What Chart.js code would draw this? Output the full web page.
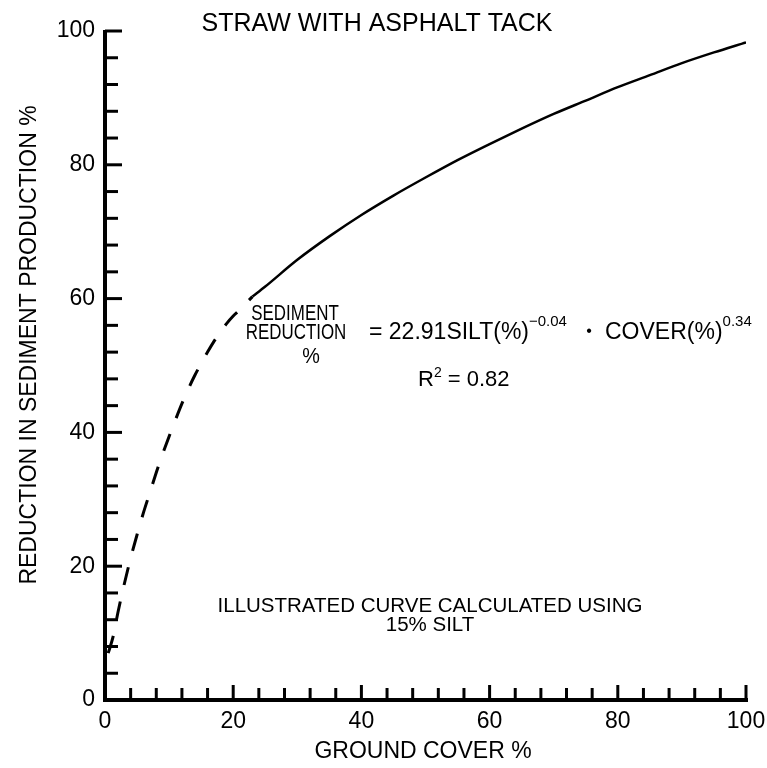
<!DOCTYPE html>
<html>
<head>
<meta charset="utf-8">
<script src="https://cdn.jsdelivr.net/npm/chart.js@4.4.1/dist/chart.umd.min.js"></script>
<style>
  html, body { margin: 0; padding: 0; background: #ffffff; }
  #wrap { width: 767px; height: 768px; position: relative; }
</style>
</head>
<body>
<div id="wrap"><canvas id="c"></canvas></div>
<script>
// ---- data ----
const titleText = "STRAW WITH ASPHALT TACK";
const xAxisTitle = "GROUND COVER %";
const yAxisTitle = "REDUCTION IN SEDIMENT PRODUCTION %";

// dashed (extrapolated) part of the curve
const dashedCover = [0.5, 1.3, 2.0, 3.0, 4.0, 5.0, 6.0, 7.0, 8.0, 9.0, 10.0, 11.0, 12.0, 13.0, 14.0, 15.0, 16.0, 17.0, 18.0, 19.0, 20.0, 21.0, 22.0, 23.0];
const dashedReduction = [7.0, 9.6, 13.0, 17.3, 21.2, 24.7, 28.0, 31.0, 34.0, 36.8, 39.4, 41.9, 44.3, 46.5, 48.5, 50.3, 52.0, 53.6, 55.0, 56.3, 57.4, 58.3, 59.3, 60.3];

// solid part of the curve
const solidCover = [23, 25, 30, 35, 40, 45, 50, 55, 60, 65, 70, 75, 80, 85, 90, 95, 100];
const solidReduction = [60.3, 61.8, 65.8, 69.3, 72.5, 75.4, 78.1, 80.7, 83.1, 85.4, 87.6, 89.6, 91.6, 93.4, 95.2, 96.8, 98.3];

// axis tick values
const xTickValues = [0, 4, 8, 12, 16, 20, 24, 28, 32, 36, 40, 44, 48, 52, 56, 60, 64, 68, 72, 76, 80, 84, 88, 92, 96, 100];
const yTickValues = [0, 4, 8, 12, 16, 20, 24, 28, 32, 36, 40, 44, 48, 52, 56, 60, 64, 68, 72, 76, 80, 84, 88, 92, 96, 100];
const xLabelValues = [0, 20, 40, 60, 80, 100];
const yLabelValues = [0, 20, 40, 60, 80, 100];

const FONT = "'Liberation Sans', Arial, Helvetica, sans-serif";

function toPoints(xs, ys) { return xs.map((x, i) => ({ x: x, y: ys[i] })); }

const overlay = {
  id: 'overlay',
  afterDraw(chart) {
    const ctx = chart.ctx;
    const xs = chart.scales.x, ys = chart.scales.y;
    const x0 = xs.getPixelForValue(0), x100 = xs.getPixelForValue(100);
    const y0 = ys.getPixelForValue(0), y100 = ys.getPixelForValue(100);
    ctx.save();
    ctx.strokeStyle = '#000';
    ctx.fillStyle = '#000';
    ctx.lineCap = 'butt';
    // axis lines
    ctx.lineWidth = 4;
    ctx.beginPath();
    ctx.moveTo(x0, y100 - 1);
    ctx.lineTo(x0, y0 + 2);
    ctx.moveTo(x0 - 2, y0);
    ctx.lineTo(x100 + 2, y0);
    ctx.stroke();
    // y ticks (inward)
    ctx.lineWidth = 3;
    yTickValues.forEach(v => {
      const py = ys.getPixelForValue(v);
      const len = (v % 20 === 0) ? 17 : 13;
      ctx.beginPath();
      ctx.moveTo(x0, py);
      ctx.lineTo(x0 + len, py);
      ctx.stroke();
    });
    // x ticks (inward)
    xTickValues.forEach(v => {
      const px = xs.getPixelForValue(v);
      const len = (v % 20 === 0) ? 15 : 12;
      ctx.beginPath();
      ctx.moveTo(px, y0);
      ctx.lineTo(px, y0 - len);
      ctx.stroke();
    });

    // title
    ctx.textAlign = 'center';
    ctx.textBaseline = 'alphabetic';
    ctx.font = '25px ' + FONT;
    ctx.fillText(titleText, 377, 31);

    // x axis title
    ctx.font = '23px ' + FONT;
    ctx.fillText(xAxisTitle, 423, 758);

    // y axis title
    ctx.save();
    ctx.translate(30, 345);
    ctx.rotate(-Math.PI / 2);
    ctx.textBaseline = 'middle';
    ctx.fillText(yAxisTitle, 0, 0);
    ctx.restore();

    // equation block (left part, narrow lettering)
    function narrow(text, cxp, by, size, sx) {
      ctx.save();
      ctx.translate(cxp, by);
      ctx.scale(sx, 1);
      ctx.font = size + 'px ' + FONT;
      ctx.textAlign = 'center';
      ctx.fillText(text, 0, 0);
      ctx.restore();
    }
    narrow('SEDIMENT', 295, 320, 22, 0.77);
    narrow('REDUCTION', 296, 339, 22, 0.77);
    narrow('%', 311, 363, 22, 0.9);

    ctx.textAlign = 'left';
    let cx = 369;
    const base = 339;
    function seg(text, size, dy) {
      ctx.font = size + 'px ' + FONT;
      ctx.fillText(text, cx, base + dy);
      cx += ctx.measureText(text).width;
    }
    seg('= 22.91SILT(%)', 23, 0);
    seg('\u22120.04', 15, -13);
    ctx.font = '16px ' + FONT;
    ctx.textAlign = 'center';
    ctx.fillText('\u2022', 589, base - 3);
    ctx.textAlign = 'left';
    cx = 605;
    seg('COVER(%)', 23, 0);
    seg('0.34', 15, -13);

    cx = 418;
    const base2 = 386;
    function seg2(text, size, dy) {
      ctx.font = size + 'px ' + FONT;
      ctx.fillText(text, cx, base2 + dy);
      cx += ctx.measureText(text).width;
    }
    seg2('R', 22, 0);
    seg2('2', 14, -9);
    seg2(' = 0.82', 22, 0);

    // note
    ctx.textAlign = 'center';
    ctx.font = '20.5px ' + FONT;
    ctx.fillText('ILLUSTRATED CURVE CALCULATED USING', 430, 612);
    ctx.fillText('15% SILT', 430, 631);
    ctx.restore();
  }
};

new Chart(document.getElementById('c'), {
  type: 'scatter',
  data: {
    datasets: [
      {
        label: 'dashed',
        data: toPoints(dashedCover, dashedReduction),
        showLine: true,
        borderColor: '#000',
        borderWidth: 3,
        borderDash: [18, 17],
        pointRadius: 0,
        fill: false,
        cubicInterpolationMode: 'monotone'
      },
      {
        label: 'solid',
        data: toPoints(solidCover, solidReduction),
        showLine: true,
        borderColor: '#000',
        borderWidth: 2.5,
        pointRadius: 0,
        fill: false,
        cubicInterpolationMode: 'monotone'
      }
    ]
  },
  options: {
    responsive: true,
    maintainAspectRatio: false,
    animation: false,
    events: [],
    layout: { padding: { top: 31, right: 21, left: 0, bottom: 0 } },
    plugins: { legend: { display: false }, tooltip: { enabled: false }, title: { display: false } },
    scales: {
      x: {
        type: 'linear', min: 0, max: 100,
        grid: { display: false, drawTicks: false },
        border: { display: false },
        afterFit(scale) { scale.height = 68; scale.paddingLeft = 0; scale.paddingRight = 0; },
        afterBuildTicks(scale) { scale.ticks = xLabelValues.map(v => ({ value: v })); },
        ticks: { color: '#000', padding: 8, maxRotation: 0, autoSkip: false, font: { family: FONT, size: 23 } }
      },
      y: {
        type: 'linear', min: 0, max: 100,
        grid: { display: false, drawTicks: false },
        border: { display: false },
        afterFit(scale) { scale.width = 105; scale.paddingTop = 0; scale.paddingBottom = 0; },
        afterBuildTicks(scale) { scale.ticks = yLabelValues.map(v => ({ value: v })); },
        ticks: { color: '#000', padding: 10, autoSkip: false, font: { family: FONT, size: 23 } }
      }
    }
  },
  plugins: [overlay]
});
</script>
</body>
</html>
